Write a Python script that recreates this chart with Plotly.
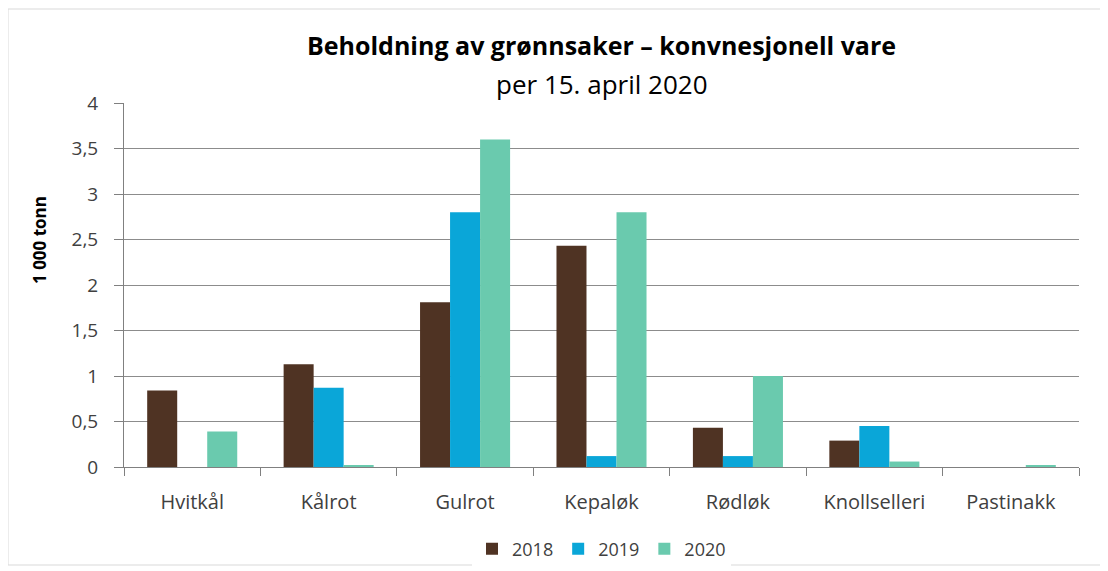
import plotly.graph_objects as go

categories = ["Hvitkål", "Kålrot", "Gulrot", "Kepaløk", "Rødløk", "Knollselleri", "Pastinakk"]
years = ["2018", "2019", "2020"]
v2018 = [0.84, 1.13, 1.81, 2.43, 0.43, 0.29, 0.0]
v2019 = [0.0, 0.87, 2.80, 0.12, 0.12, 0.45, 0.0]
v2020 = [0.39, 0.02, 3.60, 2.80, 1.00, 0.06, 0.02]
colors = ["#4F3323", "#0AA6D8", "#6ACAAE"]

fig = go.Figure()
for name, vals, c in zip(years, [v2018, v2019, v2020], colors):
    fig.add_trace(go.Bar(x=categories, y=vals, name=name, marker=dict(color=c, line=dict(width=0))))

OFF = 8  # page body margin
FW, FH = 1108 - OFF, 571 - OFF
L, T, R, B = 124 - OFF, 103 - OFF, 1079 - OFF, 467 - OFF
W, H = R - L, B - T

def px(x):
    return (x - OFF - L) / W

def py(y):
    return (B - (y - OFF)) / H

font = "Open Sans, Noto Sans, sans-serif"
fig.update_layout(
    width=FW, height=FH,
    margin=dict(l=L, r=FW - R, t=T, b=FH - B, autoexpand=False),
    paper_bgcolor="white", plot_bgcolor="white",
    separators=", ",
    barmode="group", bargap=0.34, bargroupgap=0,
    font=dict(family=font, size=19, color="#404040"),
    showlegend=True,
    legend=dict(orientation="h", x=0.5, xanchor="center", yref="container",
                y=1 - (549 - OFF) / FH, yanchor="middle",
                font=dict(size=18, color="#404040"), itemwidth=30, traceorder="normal"),
    xaxis=dict(showline=True, linecolor="#808080", linewidth=1, ticks="outside",
               tickson="boundaries", ticklen=8, tickcolor="#808080",
               ticklabelstandoff=17,
               tickfont=dict(size=20, color="#404040"), showgrid=False),
    yaxis=dict(range=[0, 4], dtick=0.5, showline=True, linecolor="#808080", linewidth=1,
               ticks="outside", ticklen=9, tickcolor="#808080",
               ticklabelstandoff=12,
               gridcolor="#8C8C8C", gridwidth=1, zeroline=False,
               tickfont=dict(size=19, color="#404040")),
    annotations=[
        dict(text="<b>Beholdning av grønnsaker – konvnesjonell vare</b>", xref="paper", yref="paper",
             x=0.5, y=py(45), xanchor="center", yanchor="middle",
             showarrow=False, font=dict(size=25, color="#000000")),
        dict(text="per 15. april 2020", xref="paper", yref="paper",
             x=0.5, y=py(84), xanchor="center", yanchor="middle",
             showarrow=False, font=dict(size=26, color="#000000")),
        dict(text="<b>1 000 tonn</b>", xref="paper", yref="paper",
             x=px(39), y=py(240), xanchor="center", yanchor="middle", textangle=-90,
             showarrow=False, font=dict(size=17, color="#000000")),
    ],
    shapes=[
        dict(type="rect", xref="paper", yref="paper",
             x0=px(8), x1=px(1101), y0=py(565), y1=py(9),
             line=dict(color="#D9D9D9", width=1), fillcolor="rgba(0,0,0,0)", layer="below"),
    ],
)
fig.write_html("out.html", config=dict(displayModeBar=False))
